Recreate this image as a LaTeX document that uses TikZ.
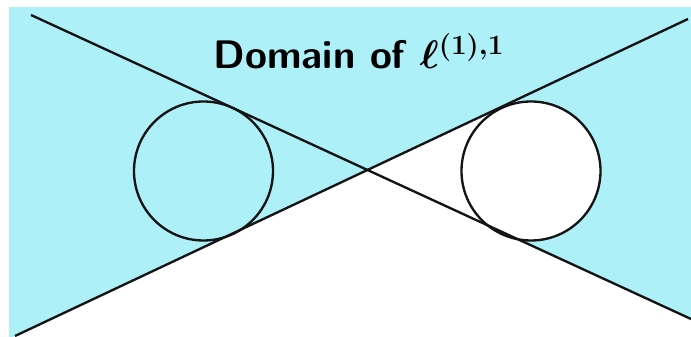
\RequirePackage{fix-cm}
\documentclass[tikz,border=0pt]{standalone}
\usepackage{amsmath,amssymb,bm}
\usetikzlibrary{calc}
\definecolor{DomainCyan}{RGB}{174,240,248}
\definecolor{EdgeBlack}{RGB}{20,20,20}
\newcommand{\domtitlefont}{\sffamily\bfseries\fontsize{34}{40}\selectfont}

\begin{document}
\begin{tikzpicture}[x=0.03cm,y=0.03cm]
      \useasboundingbox (0,0) rectangle (691,337);
      \fill[DomainCyan] (9,0) rectangle (691,330);
      \coordinate (A1) at (31,322);
      \coordinate (B1) at (691,18);
      \coordinate (A2) at (15,1);
      \coordinate (B2) at (688,318);
      \coordinate (X) at (intersection of A1--B1 and A2--B2);
      \coordinate (CL) at (203.5,166);
      \coordinate (CR) at (531,166);
      \coordinate (T1) at ($(A2)!(CR)!(B2)$);
      \coordinate (T2) at ($(A1)!(CR)!(B1)$);
      \begin{scope}
        \clip (9,0) rectangle (691,330);
        \fill[white] (X)--($(X)!2!(A2)$)--($(X)!2!(B1)$)--cycle;
      \end{scope}
      \fill[white] (X)--(T1)--(T2)--cycle;
      \fill[white] (CR) circle (69.5);
      \draw[line width=2pt,EdgeBlack] (A1)--(B1);
      \draw[line width=2pt,EdgeBlack] (A2)--(B2);
      \draw[line width=2pt,EdgeBlack] (CL) circle (69.5);
      \draw[line width=2pt,EdgeBlack] (CR) circle (69.5);
      \node[anchor=base,font=\domtitlefont] (title) at (359,268)
        {Domain of $\bm{\ell^{(1),1}}$};
    \end{tikzpicture}
\end{document}
